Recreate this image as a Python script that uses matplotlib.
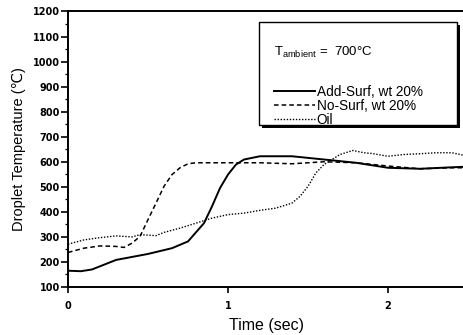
import numpy as np
import matplotlib.pyplot as plt
from matplotlib.patches import Rectangle

plt.rcParams['font.family'] = ['Liberation Sans', 'DejaVu Sans']
plt.rcParams['mathtext.fontset'] = 'custom'
plt.rcParams['mathtext.rm'] = 'Liberation Sans'
plt.rcParams['mathtext.it'] = 'Liberation Sans'

# Add-Surf, wt 20%
t_add = [0.0, 0.08, 0.15, 0.3, 0.5, 0.65, 0.75, 0.85, 0.9, 0.95, 1.0, 1.05, 1.1, 1.2,
         1.4, 1.6, 1.8, 2.0, 2.2, 2.4, 2.48]
T_add = [165, 163, 170, 208, 232, 255, 282, 355, 422, 495, 549, 589, 609, 622,
         622, 609, 596, 576, 572, 578, 580]

# No-Surf, wt 20%
t_no = [0.0, 0.1, 0.2, 0.3, 0.35, 0.4, 0.45, 0.5, 0.55, 0.6, 0.65, 0.7, 0.75, 0.8,
        1.0, 1.2, 1.4, 1.6, 1.8, 2.0, 2.2, 2.4, 2.48]
T_no = [238, 255, 264, 262, 258, 275, 302, 369, 435, 502, 549, 576, 592, 596,
        596, 596, 592, 600, 596, 583, 572, 576, 576]

# Oil
t_oil = [0.0, 0.1, 0.2, 0.3, 0.4, 0.45, 0.55, 0.6, 0.7, 0.8, 0.9, 1.0, 1.1, 1.2, 1.3,
         1.4, 1.45, 1.5, 1.55, 1.6, 1.65, 1.7, 1.78, 1.85, 1.9, 2.0, 2.1, 2.2, 2.3,
         2.4, 2.48]
T_oil = [271, 288, 297, 304, 300, 309, 305, 318, 335, 355, 375, 389, 395, 406, 415,
         435, 462, 502, 556, 589, 609, 629, 645, 636, 633, 622, 629, 632, 636,
         636, 625]

fig = plt.figure(figsize=(4.64, 3.35), dpi=100)
ax = fig.add_axes([0.1466, 0.1433, 0.8534, 0.8224])

ax.plot(t_add, T_add, '-', color='black', lw=1.4, label='Add-Surf, wt 20%')
ax.plot(t_no, T_no, '--', color='black', lw=1.1, dashes=(3, 2), label='No-Surf, wt 20%')
ax.plot(t_oil, T_oil, ':', color='black', lw=1.0, dashes=(1, 1.2), label='Oil')

ax.set_xlim(0, 2.475)
ax.set_ylim(100, 1200)
ax.set_xticks([0, 1, 2])
ax.set_yticks(np.arange(100, 1201, 100))
ax.set_yticks(np.arange(100, 1201, 50), minor=True)
ax.tick_params(axis='y', which='major', labelsize=7, length=5, width=1.2,
               direction='out', pad=1)
ax.tick_params(axis='x', which='major', labelsize=7, length=4, width=1.2,
               direction='out', pad=6)
ax.tick_params(axis='y', which='minor', length=2, width=0.9, direction='out')
for lab in ax.get_xticklabels() + ax.get_yticklabels():
    lab.set_fontweight('bold')
    lab.set_family('DejaVu Sans')

for s in ['left', 'bottom', 'top']:
    ax.spines[s].set_linewidth(1.4)
ax.spines['right'].set_visible(False)

ax.set_xlabel('Time (sec)', fontsize=11.5, labelpad=5)
ax.set_ylabel('Droplet Temperature (\u2103)', fontsize=10.5, labelpad=5)

# legend box with a drop shadow
bx, by, bw, bh = 0.482, 0.5885, 0.50, 0.374
ax.add_patch(Rectangle((bx + 0.008, by - 0.013), bw, bh, transform=ax.transAxes,
                       fc='black', ec='none', zorder=4))
ax.add_patch(Rectangle((bx, by), bw, bh, transform=ax.transAxes,
                       fc='white', ec='black', lw=1.0, zorder=5))

leg = ax.legend(loc='upper left', bbox_to_anchor=(0.52, 0.878), fontsize=9.8,
                title='$T_{\\mathregular{ambient}}$ =  700\u00b0C', title_fontsize=9.5,
                frameon=False, handlelength=3.0, handletextpad=0.15, borderpad=0,
                labelspacing=0.0, alignment='left', borderaxespad=0)
leg.set_zorder(6)
leg._legend_box.sep = 18

fig.savefig('out.png', dpi=100)
